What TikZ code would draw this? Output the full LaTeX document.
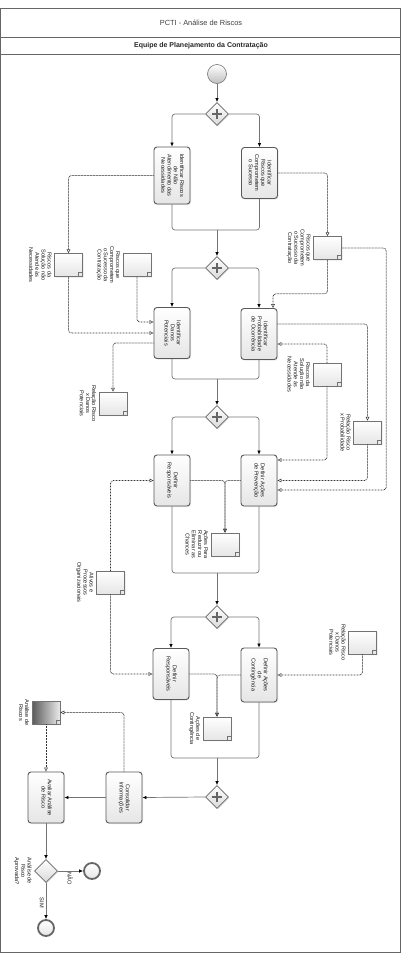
\documentclass[tikz,border=0pt]{standalone}
\usepackage{fontspec}
\setmainfont{Liberation Sans}
\usetikzlibrary{arrows.meta,shapes.geometric,shapes.misc,shadows,positioning}

\newcommand{\rtext}[1]{\rotatebox{-90}{\begin{tabular}{@{}c@{}}#1\end{tabular}}}

\tikzset{
	small/.style={font=\fontsize{5.6}{6.2}\selectfont, text=black!90},
	task/.style={small, draw=black!65, line width=0.9pt, rounded corners=3pt, top color=white, bottom color=black!10, minimum width=36pt, minimum height=51pt, inner sep=1pt, drop shadow={opacity=0.2, shadow xshift=1pt, shadow yshift=-1pt}},
	gate/.style={diamond, draw=black!60, line width=0.8pt, top color=white, bottom color=black!15, minimum width=23pt, minimum height=23pt, inner sep=0pt, drop shadow={opacity=0.2, shadow xshift=1pt, shadow yshift=-1pt}},
	plusgate/.style={gate, path picture={\draw[line width=2.4pt, black!60] ([xshift=-5pt]path picture bounding box.center) -- ([xshift=5pt]path picture bounding box.center) ([yshift=-5pt]path picture bounding box.center) -- ([yshift=5pt]path picture bounding box.center);}},
	startev/.style={circle, draw=black!55, line width=0.6pt, top color=white, bottom color=black!25, minimum size=19pt, inner sep=0pt},
	endev/.style={circle, draw=black!60, line width=1.8pt, top color=white, bottom color=black!10, minimum size=16pt, inner sep=0pt},
	dataobj/.style={chamfered rectangle, chamfered rectangle corners=south east, chamfered rectangle xsep=4pt, chamfered rectangle ysep=4pt, draw=black!55, line width=0.5pt, top color=white, bottom color=black!10, minimum width=28pt, minimum height=23pt, inner sep=0pt, drop shadow={opacity=0.2, shadow xshift=1pt, shadow yshift=-1pt}, path picture={\draw[black!55, line width=0.5pt] ([xshift=-4pt]path picture bounding box.south east) -- ++(0,4pt) -- ++(4pt,0);}},
	doclabel/.style={small, inner sep=2pt, anchor=east},
	flow/.style={draw=black!55, line width=0.7pt, rounded corners=3pt, -{Latex[length=4pt, width=3.6pt, color=black]}},
	seq/.style={draw=black!55, line width=0.7pt, rounded corners=3pt},
	assoc/.style={draw=black!80, line width=0.75pt, dash pattern=on 0.75pt off 0.75pt, rounded corners=3pt, -{Triangle[open, length=4pt, width=3.6pt, line width=0.5pt, sep=0pt]}},
	elabel/.style={small, inner sep=1.5pt},
}

\begin{document}
\begin{tikzpicture}[x=1pt, y=-1pt]
	\useasboundingbox (0, 0) rectangle (402, 964);
	\draw[black!60, line width=0.8pt] (0.5, 8) rectangle (400.5, 952);
	\draw[black!60, line width=0.6pt] (0.5, 37) -- (400.5, 37);
	\draw[black!60, line width=0.6pt] (0.5, 54) -- (400.5, 54);
	\draw node[font=\fontsize{7.4}{8}\selectfont, text=black!75] at (201, 23) (title) {PCTI - Análise de Riscos};
	\draw node[font=\fontsize{7}{8}\selectfont\bfseries, text=black!85] at (201, 46) (lane) {Equipe de Planejamento da Contratação};

	\draw node[startev] at (217, 74) (start) {};
	\draw node[plusgate] at (217, 114) (g1) {};
	\draw node[task, minimum height=57pt] at (172, 175.5) (t1) {\rtext{Identificar Riscos\\de Não\\Atendimento das\\Necessidades}};
	\draw node[task] at (259.5, 173) (t2) {\rtext{Identificar\\Riscos que\\Comprometem\\o Sucesso}};
	\coordinate (j1) at (217, 230);
	\draw node[plusgate] at (217, 268) (g2) {};
	\draw node[task] at (172, 333) (t3) {\rtext{Identificar\\Danos\\Potenciais}};
	\draw node[task] at (259, 334) (t4) {\rtext{Identificar\\Probabilidade\\de Ocorrência}};
	\coordinate (j2) at (217, 379);
	\draw node[plusgate] at (217, 417) (g3) {};
	\draw node[task] at (172, 480.5) (t5) {\rtext{Definir\\Responsáveis}};
	\draw node[task] at (259, 480.5) (t6) {\rtext{Definir Ações\\de Prevenção}};
	\coordinate (j3) at (217, 573);
	\draw node[plusgate] at (217, 617) (g4) {};
	\draw node[task] at (171, 674) (t7) {\rtext{Definir\\Responsáveis}};
	\draw node[task, minimum height=54pt] at (259, 675) (t8) {\rtext{Definir Ações\\de\\Contingência}};
	\coordinate (j4) at (217, 758);
	\draw node[plusgate] at (217, 797) (g5) {};
	\draw node[task] at (124, 797.5) (t9) {\rtext{Consolidar\\Informações}};
	\draw node[task] at (46, 797.5) (t10) {\rtext{Avaliar Análise\\de Risco}};
	\draw node[gate] at (46, 871) (g6) {};
	\draw node[endev] at (92, 871) (endno) {};
	\draw node[endev] at (46, 928) (endyes) {};
	\draw node[doclabel] at (g6.west) (lg6) {\rtext{Análise de\\Risco\\Aprovada?}};

	\draw node[dataobj] at (68.5, 265) (dA) {};
	\draw node[dataobj] at (137, 265) (dB) {};
	\draw node[dataobj] at (327.5, 248) (dC) {};
	\draw node[dataobj] at (113, 403.5) (dD) {};
	\draw node[dataobj] at (327, 374.5) (dE) {};
	\draw node[dataobj] at (367.5, 432.5) (dF) {};
	\draw node[dataobj] at (225, 544.5) (dG) {};
	\draw node[dataobj] at (110.5, 582.5) (dH) {};
	\draw node[dataobj] at (362.5, 642.5) (dI) {};
	\draw node[dataobj] at (217, 728.5) (dJ) {};
	\draw node[dataobj, left color=black!65, right color=black!8] at (46, 712.5) (dK) {};

	\draw node[doclabel] at (dA.west) (lA) {\rtext{Riscos da\\Solução não\\Atende às\\Necessidades}};
	\draw node[doclabel] at (dB.west) (lB) {\rtext{Riscos que\\Comprometem\\o Sucesso da\\Contratação}};
	\draw node[doclabel] at (dC.west) (lC) {\rtext{Riscos que\\Comprometem\\o Sucesso da\\Contratação}};
	\draw node[doclabel] at (dD.west) (lD) {\rtext{Relação Risco\\x Danos\\Potenciais}};
	\draw node[doclabel] at (dE.west) (lE) {\rtext{Riscos da\\Solução não\\Atende às\\Necessidades}};
	\draw node[doclabel] at (dF.west) (lF) {\rtext{Relação Risco\\x Probabilidade}};
	\draw node[doclabel] at (dG.west) (lG) {\rtext{Ações Para\\Reduzir ou\\Eliminar as\\Chances}};
	\draw node[doclabel] at (dH.west) (lH) {\rtext{Ativos e\\Processos\\Organizacionais}};
	\draw node[doclabel] at (dI.west) (lI) {\rtext{Relação Risco\\x Danos\\Potenciais}};
	\draw node[doclabel] at (dJ.west) (lJ) {\rtext{Ações de\\Contingência}};
	\draw node[doclabel] at (dK.west) (lK) {\rtext{Análise de\\Riscos}};

	\draw [flow] (start) -- (g1);
	\draw [flow] (g1.west) -| (t1.north);
	\draw [flow] (g1.east) -| (t2.north);
	\draw [seq] (t1.south) |- (j1);
	\draw [seq] (t2.south) |- (j1);
	\draw [flow] (j1) -- (g2.north);
	\draw [flow] (g2.west) -| (t3.north);
	\draw [flow] (g2.east) -| (t4.north);
	\draw [seq] (t3.south) |- (j2);
	\draw [seq] (t4.south) |- (j2);
	\draw [flow] (j2) -- (g3.north);
	\draw [flow] (g3.west) -| (t5.north);
	\draw [flow] (g3.east) -| (t6.north);
	\draw [seq] (t5.south) |- (j3);
	\draw [seq] (t6.south) |- (j3);
	\draw [flow] (j3) -- (g4.north);
	\draw [flow] (g4.west) -| (t7.north);
	\draw [flow] (g4.east) -| (t8.north);
	\draw [seq] (t7.south) |- (j4);
	\draw [seq] (t8.south) |- (j4);
	\draw [flow] (j4) -- (g5.north);
	\draw [flow] (g5.west) -- (t9.east);
	\draw [flow] (t9.west) -- (t10.east);
	\draw [flow] (t10.south) -- (g6.north);
	\draw [flow] (g6.east) -- (endno.west) node[elabel, pos=.45, anchor=north] {\rtext{NÃO}};
	\draw [flow] (g6.south) -- (endyes.north) node[elabel, pos=.55, anchor=east] {\rtext{SIM}};

	\draw [assoc] (t1.west) -| (dA.north);
	\draw [assoc] (t2.east) -| (dC.north);
	\draw [assoc] (dA.south) |- (t3.west);
	\draw [assoc] (dB.south) |- ([yshift=11pt]t3.west);
	\draw [assoc] ([yshift=-10pt]t3.west) -| (dD.north);
	\draw [assoc] (dC.south) -- ++(0, 34) -| ([xshift=14pt]t4.north);
	\draw [assoc] ([yshift=10pt]t4.east) -| (dF.north);
	\draw [assoc] (dE.north) |- ([yshift=-10pt]t4.east);
	\draw [assoc] (dC.east) -- ++(44.5, 0) |- ([yshift=-9.5pt]t6.east);
	\draw [assoc] (dE.south) |- ([yshift=20.5pt]t6.east);
	\draw [assoc] (dF.south) |- (t6.east);
	\draw [assoc] (t5.east) -| (dG.north);
	\draw [assoc] (t6.west) -| (dG.north);
	\draw [assoc] (dH.north) |- (t5.west);
	\draw [assoc] (dH.south) |- (t7.west);
	\draw [assoc] (t7.east) -| (dJ.north);
	\draw [assoc] (t8.west) -| (dJ.north);
	\draw [assoc] (dI.south) |- (t8.east);
	\draw [assoc] (t9.north) |- (dK.east);
	\draw [assoc] (dK.south) -- (t10.north);
\end{tikzpicture}
\end{document}
